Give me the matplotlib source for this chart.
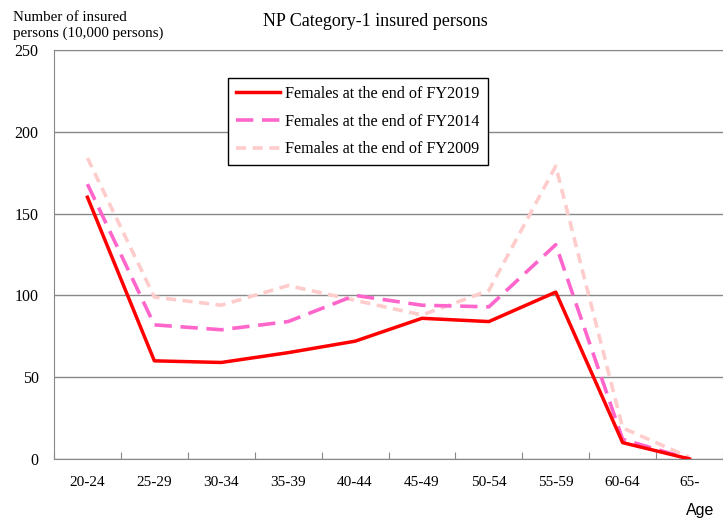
import numpy as np
import matplotlib.pyplot as plt

ages = ['20-24', '25-29', '30-34', '35-39', '40-44', '45-49', '50-54', '55-59', '60-64', '65-']
fy2019 = [160, 60, 59, 65, 72, 86, 84, 102, 10, 0]
fy2014 = [168, 82, 79, 84, 100, 94, 93, 131, 12, 0]
fy2009 = [184, 99, 94, 106, 97, 88, 103, 179, 19, 1]
labels = ['Females at the end of FY2019', 'Females at the end of FY2014', 'Females at the end of FY2009']

serif = ['Liberation Serif', 'DejaVu Serif']

fig = plt.figure(figsize=(7.23, 5.19), dpi=100)
ax = fig.add_axes([54/723, 1-459/519, 1-54/723, (459-50)/519])

x = np.arange(len(ages))
ax.plot(x, fy2009, color='#ffcccc', lw=2.6, dashes=(2.8, 1.8), label=labels[2], zorder=3)
ax.plot(x, fy2014, color='#ff66cc', lw=2.6, dashes=(4.8, 2.4), label=labels[1], zorder=4)
ax.plot(x, fy2019, color='#ff0000', lw=2.5, label=labels[0], zorder=5)

ax.set_xlim(-0.5, 9.38)
ax.set_ylim(0, 250)
ax.set_yticks([0, 50, 100, 150, 200, 250])
ax.yaxis.grid(True, color='#888888', lw=1)
ax.set_axisbelow(True)
ax.tick_params(axis='y', length=0, labelsize=11.5, pad=11)
for lab in ax.get_yticklabels():
    lab.set_family(serif)

# ticks between categories, labels in the middle
ax.set_xticks(np.arange(-0.5, 10, 1))
ax.set_xticklabels([])
ax.set_xticks(x, minor=True)
ax.set_xticklabels(ages, minor=True, family=serif, fontsize=11)
ax.tick_params(axis='x', which='major', direction='in', length=5, color='#888888')
ax.tick_params(axis='x', which='minor', length=0, pad=12)

for s in ['left', 'bottom', 'top']:
    ax.spines[s].set_color('#888888')
ax.spines['right'].set_visible(False)

h, l = ax.get_legend_handles_labels()
leg = ax.legend(h[::-1], l[::-1], loc='upper left', bbox_to_anchor=(228/723, 1-78/519),
                bbox_transform=fig.transFigure, frameon=True, fancybox=False,
                edgecolor='black', framealpha=1, prop={'family': serif, 'size': 11.6},
                handlelength=2.75, labelspacing=0.72, borderpad=0.5, handletextpad=0.3,
                borderaxespad=0)
leg.get_frame().set_linewidth(1)

fig.text(375/723, 1-21/519, 'NP Category-1 insured persons', ha='center', va='center',
         family=serif, fontsize=13)
fig.text(13/723, 1-11/519, 'Number of insured\npersons (10,000 persons)', ha='left', va='top',
         family=serif, fontsize=10.8, linespacing=1.25)
fig.text(700/723, 1-510/519, 'Age', ha='center', va='center',
         family=['Liberation Sans', 'DejaVu Sans'], fontsize=11.5)

plt.savefig('out.png', dpi=100)
